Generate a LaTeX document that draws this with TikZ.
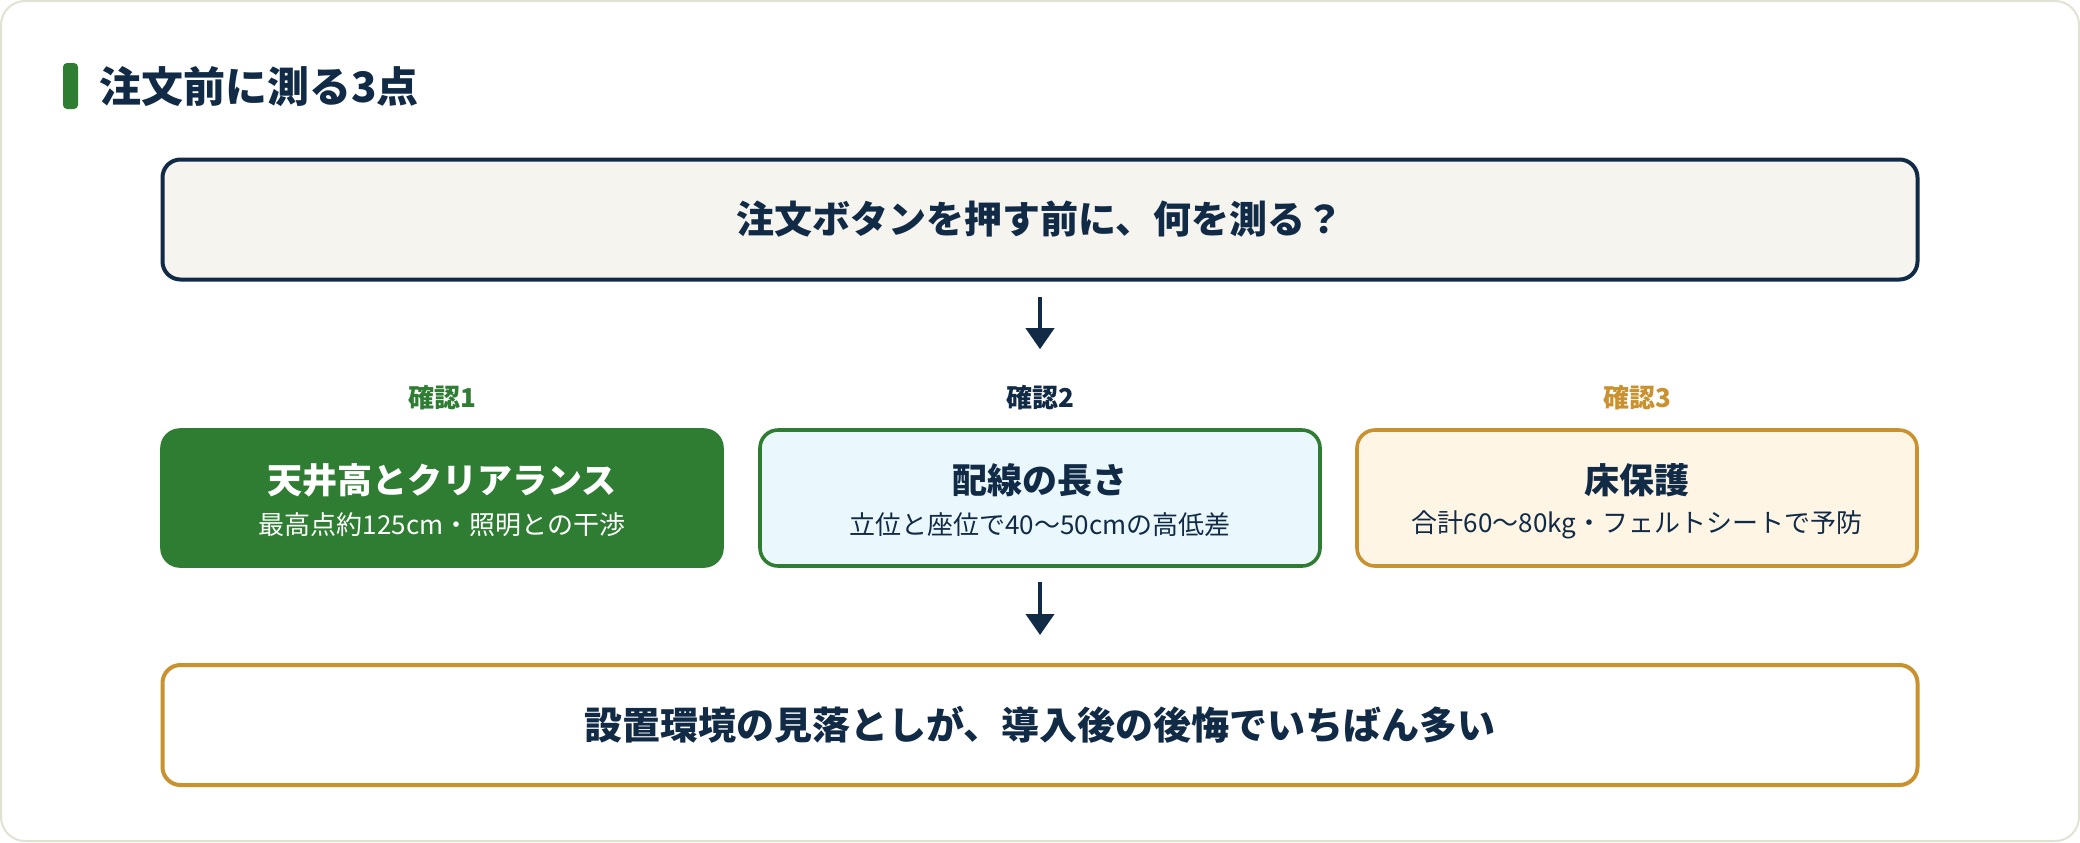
\documentclass[tikz,border=0pt]{standalone}
\usepackage{fontspec}
\setmainfont{Noto Sans CJK JP}
\usetikzlibrary{arrows.meta}
\definecolor{navy}{HTML}{112A46}
\definecolor{leaf}{HTML}{2E7D32}
\definecolor{gold}{HTML}{C9922E}
\definecolor{skyfill}{HTML}{EAF8FD}
\definecolor{creamfill}{HTML}{FEF5E5}
\definecolor{greyfill}{HTML}{F5F4EF}
\definecolor{frame}{HTML}{E3E0D4}
\tikzset{
  bigbox/.style={draw=navy, line width=2pt, rounded corners=9pt, minimum width=877.5pt, minimum height=60pt, inner sep=0pt, font=\bfseries\fontsize{19}{22}\selectfont, text=navy},
  card/.style={rounded corners=9pt, minimum width=280pt, minimum height=68pt, inner sep=0pt, line width=1.8pt},
  cardtitle/.style={inner sep=0pt, font=\bfseries\fontsize{17.5}{20}\selectfont},
  cardsub/.style={inner sep=0pt, font=\fontsize{13}{15}\selectfont},
  tag/.style={inner sep=0pt, font=\bfseries\fontsize{13}{15}\selectfont},
  arr/.style={draw=navy, line width=2pt, -{Triangle[width=14pt,length=10.5pt]}},
}
\begin{document}
\begin{tikzpicture}[x=0.5pt,y=-0.5pt]
\useasboundingbox (0,0) rectangle (2080,842);
\draw[draw=frame, line width=1pt, fill=white, rounded corners=12pt] (1,1) rectangle (2079,841);
% heading
\fill[leaf, rounded corners=2pt] (63,63) rectangle (78,109);
\node[anchor=west, inner sep=0pt, text=navy, font=\bfseries\fontsize{21}{24}\selectfont] (head) at (99,87) {注文前に測る3点};
% top question
\node[bigbox, fill=greyfill] (top) at (1040,219.5) {注文ボタンを押す前に、何を測る？};
% tags
\node[tag, text=leaf] (l1) at (442,398) {確認1};
\node[tag, text=navy] (l2) at (1040,398) {確認2};
\node[tag, text=gold] (l3) at (1637,398) {確認3};
% cards
\node[card, fill=leaf, draw=leaf] (b1) at (442,498) {};
\node[card, fill=skyfill, draw=leaf] (b2) at (1040,498) {};
\node[card, fill=creamfill, draw=gold] (b3) at (1637,498) {};
\node[cardtitle, text=white] (b1t) at (442,480) {天井高とクリアランス};
\node[cardsub, text=white] (b1s) at (442,525) {最高点約125cm・照明との干渉};
\node[cardtitle, text=navy] (b2t) at (1040,480) {配線の長さ};
\node[cardsub, text=navy] (b2s) at (1040,525) {立位と座位で40〜50cmの高低差};
\node[cardtitle, text=navy] (b3t) at (1637,480) {床保護};
\node[cardsub, text=navy] (b3s) at (1637,525) {合計60〜80kg・フェルトシートで予防};
% bottom conclusion
\node[bigbox, draw=gold, fill=white] (bot) at (1040,725) {設置環境の見落としが、導入後の後悔でいちばん多い};
% connectors
\draw[arr, shorten <=7.5pt, shorten >=39.5pt] (top.south) -- (b2.north);
\draw[arr, shorten <=7pt, shorten >=14pt] (b2.south) -- (bot.north);
\end{tikzpicture}
\end{document}
